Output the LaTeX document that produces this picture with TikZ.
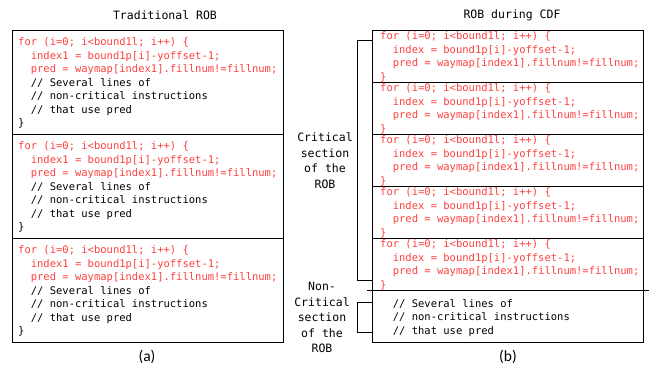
\documentclass[tikz,border=0pt]{standalone}
\usepackage{fontspec}
\setmainfont{Carlito}
\newfontfamily\codefont{DejaVu Sans Mono}
\definecolor{codered}{HTML}{FF4040}
\newcommand\ind{\hphantom{xx}}
\newcommand\firstline{\rule{0pt}{10pt}}
% loop body with everything but the comments in red
\newcommand\fullloop{%
  \textcolor{codered}{\firstline for (i=0; i<bound1l; i++) \{}\\
  \ind\textcolor{codered}{index1 = bound1p[i]-yoffset-1;}\\
  \ind\textcolor{codered}{pred = waymap[index1].fillnum!=fillnum;}\\
  \ind// Several lines of\\
  \ind// non-critical instructions\\
  \ind// that use pred\\
  \}}
% critical part of the loop only
\newcommand\critloop{%
  \textcolor{codered}{\firstline for (i=0; i<bound1l; i++) \{}\\
  \ind\textcolor{codered}{index = bound1p[i]-yoffset-1;}\\
  \ind\textcolor{codered}{pred = waymap[index1].fillnum!=fillnum;}\\
  \textcolor{codered}{\}}}
\begin{document}
\begin{tikzpicture}[x=1pt,y=-1pt,
  sec/.style={draw,line width=0.9pt,rectangle,anchor=north west,inner sep=0pt,minimum width=271pt},
  code/.style={anchor=north west,inner sep=0pt,align=left,font=\codefont\fontsize{10.5}{13.5}\selectfont},
  title/.style={font=\codefont\fontsize{11.5}{13}\selectfont},
  side/.style={align=center,font=\codefont\fontsize{11.5}{15.6}\selectfont},
  caption/.style={font=\fontsize{15.5}{17}\selectfont},
  brace/.style={draw,line width=0.9pt}]
\useasboundingbox (0,0) rectangle (650,370);

% ---- (a) traditional ROB ----
\node[title] (tA) at (165,15) {Traditional ROB};
\foreach \i/\y in {1/30,2/134,3/238}{
  \node[code] (ca\i) at (18,\y+5.5) {\fullloop};
  \node[sec,minimum height=104pt] (a\i) at (12,\y) {};
}
\node[caption] (capA) at (147,357) {(a)};

% ---- (b) ROB during CDF ----
\node[title] (tB) at (512,15) {ROB during CDF};
\foreach \i/\y in {1/30,2/82,3/134,4/186,5/238}{
  \node[code] (cb\i) at (380,\y-0.5) {\critloop};
  \node[sec,minimum height=52pt] (b\i) at (372,\y) {};
}
\node[code] (cb6) at (380,297) {\firstline\ind// Several lines of\\ \ind// non-critical instructions\\ \ind// that use pred};
\node[sec,minimum height=52pt] (b6) at (372,290) {};
\coordinate (splitL) at (367,290.5);
\coordinate (splitR) at (649,290.5);
\draw[line width=1.8pt] (splitL) -- (splitR);
\node[caption] (capB) at (508,357) {(b)};

% ---- brackets and their labels ----
\coordinate (critTop) at (372,40);
\coordinate (critBot) at (372,280);
\draw[brace] (critTop) -- ++(-15,0) |- (critBot);
\coordinate (ncTop) at (372,302);
\coordinate (ncBot) at (372,332);
\draw[brace] (ncTop) -- ++(-15,0) |- (ncBot);
\node[side] (critLbl) at (325,160.5) {Critical\\section\\of the\\ROB};
\node[side] (ncLbl) at (322,317.6) {Non-\\Critical\\section\\of the\\ROB};
\end{tikzpicture}
\end{document}
